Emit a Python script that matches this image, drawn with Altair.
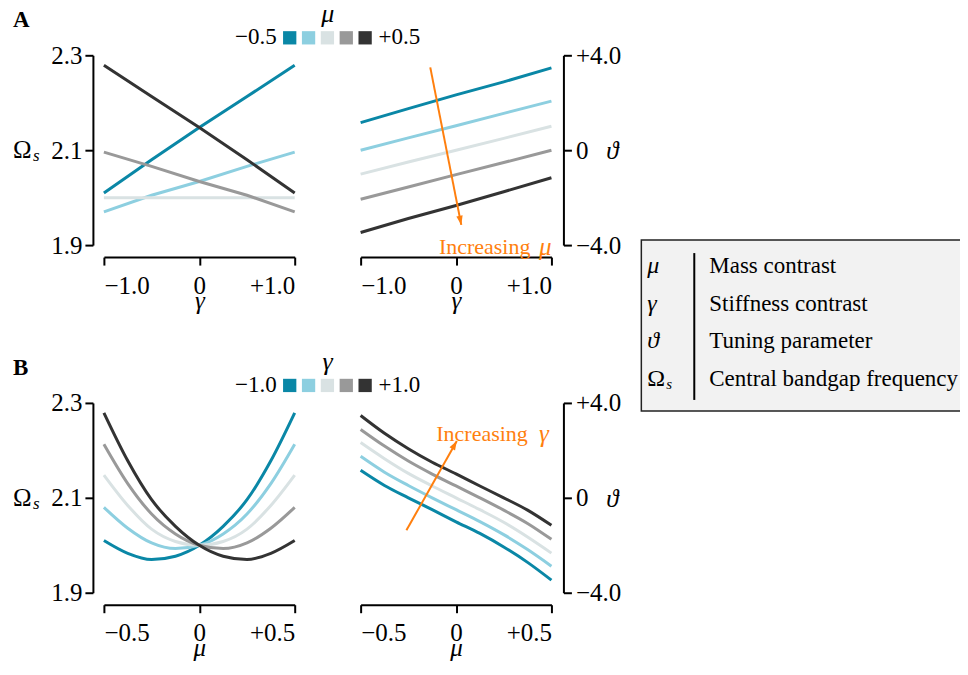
import math
import altair as alt
import pandas as pd

# ---------------- data ----------------
MU = [-0.5, -0.375, -0.25, -0.125, 0.0, 0.125, 0.25, 0.375, 0.5]
GAMMA = [-1.0, -0.5, 0.0, 0.5, 1.0]
MU_SHOWN = [-0.5, -0.25, 0.0, 0.25, 0.5]

# central bandgap frequency Omega_s, one list per gamma, along MU
OMEGA_GM10 = [2.010, 1.983, 1.970, 1.977, 2.000, 2.040, 2.096, 2.178, 2.279]
OMEGA_GM05 = [2.080, 2.036, 2.005, 1.993, 2.000, 2.024, 2.066, 2.130, 2.213]
OMEGA_G00 = [2.148, 2.084, 2.034, 2.008, 2.000, 2.008, 2.034, 2.084, 2.148]
OMEGA_GP05 = [2.213, 2.130, 2.066, 2.024, 2.000, 1.993, 2.005, 2.036, 2.080]
OMEGA_GP10 = [2.279, 2.178, 2.096, 2.040, 2.000, 1.977, 1.970, 1.983, 2.010]

# tuning parameter theta, one list per gamma, along MU
THETA_GM10 = [1.16, 0.52, 0.00, -0.50, -1.01, -1.50, -2.07, -2.72, -3.47]
THETA_GM05 = [1.75, 1.08, 0.52, 0.00, -0.50, -1.00, -1.55, -2.18, -2.88]
THETA_G00 = [2.33, 1.65, 1.03, 0.50, 0.00, -0.50, -1.03, -1.65, -2.33]
THETA_GP05 = [2.88, 2.18, 1.55, 1.00, 0.50, 0.00, -0.52, -1.08, -1.75]
THETA_GP10 = [3.47, 2.72, 2.07, 1.50, 1.01, 0.50, 0.00, -0.52, -1.16]

OMEGA = [OMEGA_GM10, OMEGA_GM05, OMEGA_G00, OMEGA_GP05, OMEGA_GP10]
THETA = [THETA_GM10, THETA_GM05, THETA_G00, THETA_GP05, THETA_GP10]

ARROW_A_GAMMA = [-0.27, 0.055]
ARROW_A_THETA = [3.49, -3.15]
ARROW_B_MU = [-0.26, 0.004]
ARROW_B_THETA = [-1.37, 2.40]

LEGEND_SYMBOLS = ["\u03bc", "\u03b3", "\u03d1"]
LEGEND_TEXT = ["Mass contrast", "Stiffness contrast", "Tuning parameter",
               "Central bandgap frequency"]

COLORS = ["#0a87a6", "#8dcfe0", "#d9e2e3", "#999999", "#333333"]
ORANGE = "#ff7f0e"
FONT = "Liberation Serif"
W, H = 191, 190

rows = []
for gi, g in enumerate(GAMMA):
    for mi, m in enumerate(MU):
        rows.append({"gamma": g, "mu": m, "omega": OMEGA[gi][mi],
                     "theta": THETA[gi][mi], "gk": gi,
                     "mk": MU_SHOWN.index(m) if m in MU_SHOWN else -1})
df = pd.DataFrame(rows)
dfA = df[df.mk >= 0].copy()
dfB = df.copy()

ONE = pd.DataFrame({"o": [0]})

SIGNED = ("datum.value == 0 ? '0' : (datum.value > 0 ? '+' : '\u2212') + "
          "format(abs(datum.value), '.1f')")


def s_gamma():
    return alt.Scale(domain=[-1, 1], nice=False, zero=False)


def s_mu():
    return alt.Scale(domain=[-0.5, 0.5], nice=False, zero=False)


def s_omega():
    return alt.Scale(domain=[1.9, 2.3], nice=False, zero=False)


def s_theta():
    return alt.Scale(domain=[-4, 4], nice=False, zero=False)


def x_axis(vals, title):
    return alt.Axis(values=vals, labelExpr=SIGNED, title=title, offset=12,
                    labelPadding=8, titleY=51, titleBaseline="alphabetic")


def color(field):
    return alt.Color(f"{field}:O", scale=alt.Scale(domain=[0, 1, 2, 3, 4], range=COLORS),
                     legend=None)


def txt(text, x, y, size=25, style="normal", weight="normal", align="left",
        baseline="alphabetic", col="black"):
    return alt.Chart(ONE).mark_text(
        text=text, font=FONT, fontSize=size, fontStyle=style, fontWeight=weight,
        align=align, baseline=baseline, color=col
    ).encode(x=alt.value(x), y=alt.value(y))


def head_angle(x0, x1, y0, y1, xspan, yspan):
    dx = (x1 - x0) / xspan * W
    dy = (y1 - y0) / yspan * H
    return math.degrees(math.atan2(dx, dy)) % 360


HEAD = "M0,0L0.8,2.3L-0.8,2.3Z"

Y_OMEGA = alt.Y("omega:Q", scale=s_omega(),
                axis=alt.Axis(values=[1.9, 2.1, 2.3], format=".1f", title=None,
                              offset=11, labelPadding=3, orient="left"))
Y_THETA_AXIS = alt.Axis(values=[-4, 0, 4], labelExpr=SIGNED, title=None, offset=12,
                        labelPadding=4, orient="right")


def omega_label():
    return [txt("\u03a9", -91, 103, size=25), txt("s", -71, 106, size=17, style="italic")]


def top_legend(field, other_field, dom, title, lo, hi):
    leg = pd.DataFrame({field: [0, 1, 2, 3, 4], other_field: dom})
    sq = alt.Chart(leg).mark_square(size=177, opacity=1).encode(
        x=alt.X(f"{other_field}:Q",
                scale=alt.Scale(domain=[dom[0], dom[-1]], range=[186, 261.5]), axis=None),
        y=alt.value(-17.5),
        color=color(field),
    )
    return [sq,
            txt(title, 224, -33, size=26, style="italic", align="center"),
            txt(lo, 173, -11, size=23, align="right"),
            txt(hi, 275, -11, size=23, align="left")]


# ---------------- panel A left ----------------
A_left = alt.layer(
    alt.Chart(dfA).mark_line(strokeWidth=3).encode(
        x=alt.X("gamma:Q", scale=s_gamma(), axis=x_axis([-1, 0, 1], "\u03b3")),
        y=Y_OMEGA, color=color("mk")),
    *top_legend("mk", "mu", MU_SHOWN, "\u03bc", "\u22120.5", "+0.5"),
    *omega_label(),
    txt("A", -91, -28, size=23, weight="bold"),
).resolve_scale(x="independent").properties(width=W, height=H)

# ---------------- panel A right ----------------
XA = alt.X("gamma:Q", scale=s_gamma(), axis=x_axis([-1, 0, 1], "\u03b3"))
arrA = pd.DataFrame({"gamma": ARROW_A_GAMMA, "theta": ARROW_A_THETA})
angA = head_angle(ARROW_A_GAMMA[0], ARROW_A_GAMMA[1], ARROW_A_THETA[0], ARROW_A_THETA[1], 2, 8)
txtA = pd.DataFrame({"gamma": [1.0], "theta": [-4.1]})
box_df = pd.DataFrame({"row": [0, 1, 2, 3], "desc": LEGEND_TEXT})
sym_df = pd.DataFrame({"row": [0, 1, 2], "sym": LEGEND_SYMBOLS})
om_df = pd.DataFrame({"row": [3], "sym": ["\u03a9"]})


def y_row():
    return alt.Y("row:Q", scale=alt.Scale(domain=[0, 3], range=[211, 324]), axis=None)


BOX_L = 281
A_right = alt.layer(
    alt.Chart(dfA).mark_line(strokeWidth=3).encode(
        x=XA, y=alt.Y("theta:Q", scale=s_theta(), axis=Y_THETA_AXIS), color=color("mk")),
    alt.Chart(arrA).mark_line(color=ORANGE, strokeWidth=2).encode(
        x=XA, y=alt.Y("theta:Q", scale=s_theta(), axis=None)),
    alt.Chart(arrA.iloc[[1]]).mark_point(
        shape=HEAD, size=64, filled=True, color=ORANGE, opacity=1, angle=angA, strokeWidth=0
    ).encode(x=XA, y=alt.Y("theta:Q", scale=s_theta(), axis=None)),
    alt.Chart(txtA).mark_text(text="\u03bc", font=FONT, fontSize=25, fontStyle="italic",
                              align="right", color=ORANGE).encode(
        x=XA, y=alt.Y("theta:Q", scale=s_theta(), axis=None)),
    alt.Chart(txtA).mark_text(text="Increasing", font=FONT, fontSize=22, align="right",
                              dx=-21, color=ORANGE).encode(
        x=XA, y=alt.Y("theta:Q", scale=s_theta(), axis=None)),
    txt("\u03d1", W + 55, H / 2 + 1, size=25, style="italic", baseline="middle"),
    # definitions box
    alt.Chart(ONE).mark_rect(fill="#f2f2f2", stroke="#222222", strokeWidth=1.5).encode(
        x=alt.value(BOX_L), x2=alt.value(BOX_L + 335), y=alt.value(185), y2=alt.value(356)),
    alt.Chart(ONE).mark_rule(strokeWidth=2, color="black").encode(
        x=alt.value(BOX_L + 53), y=alt.value(198), y2=alt.value(345)),
    alt.Chart(box_df).mark_text(font=FONT, fontSize=23, align="left", color="black").encode(
        x=alt.value(BOX_L + 68), y=y_row(), text="desc:N"),
    alt.Chart(sym_df).mark_text(font=FONT, fontSize=24, fontStyle="italic", align="left",
                                color="black").encode(
        x=alt.value(BOX_L + 6), y=y_row(), text="sym:N"),
    alt.Chart(om_df).mark_text(font=FONT, fontSize=24, align="left", color="black").encode(
        x=alt.value(BOX_L + 6), y=y_row(), text="sym:N"),
    alt.Chart(om_df).mark_text(text="s", font=FONT, fontSize=15, fontStyle="italic",
                               align="left", dy=5, color="black").encode(
        x=alt.value(BOX_L + 25), y=y_row()),
).resolve_scale(y="independent").properties(width=W, height=H)

# ---------------- panel B left ----------------
B_left = alt.layer(
    alt.Chart(dfB).mark_line(strokeWidth=3, interpolate="monotone").encode(
        x=alt.X("mu:Q", scale=s_mu(), axis=x_axis([-0.5, 0, 0.5], "\u03bc")),
        y=Y_OMEGA, color=color("gk")),
    *top_legend("gk", "gamma", GAMMA, "\u03b3", "\u22121.0", "+1.0"),
    *omega_label(),
    txt("B", -91, -28, size=23, weight="bold"),
).resolve_scale(x="independent").properties(width=W, height=H)

# ---------------- panel B right ----------------
XB = alt.X("mu:Q", scale=s_mu(), axis=x_axis([-0.5, 0, 0.5], "\u03bc"))
YB = alt.Y("theta:Q", scale=s_theta(), axis=Y_THETA_AXIS)
arrB = pd.DataFrame({"mu": ARROW_B_MU, "theta": ARROW_B_THETA})
angB = head_angle(ARROW_B_MU[0], ARROW_B_MU[1], ARROW_B_THETA[0], ARROW_B_THETA[1], 1, 8)
txtB = pd.DataFrame({"mu": [0.486], "theta": [2.70]})
B_right = alt.layer(
    alt.Chart(dfB).mark_line(strokeWidth=3, interpolate="monotone").encode(
        x=XB, y=YB, color=color("gk")),
    alt.Chart(arrB).mark_line(color=ORANGE, strokeWidth=2).encode(x=XB, y=YB),
    alt.Chart(arrB.iloc[[1]]).mark_point(
        shape=HEAD, size=64, filled=True, color=ORANGE, opacity=1, angle=angB, strokeWidth=0
    ).encode(x=XB, y=YB),
    alt.Chart(txtB).mark_text(text="\u03b3", font=FONT, fontSize=25, fontStyle="italic",
                              align="right", color=ORANGE).encode(x=XB, y=YB),
    alt.Chart(txtB).mark_text(text="Increasing", font=FONT, fontSize=22, align="right",
                              dx=-21, color=ORANGE).encode(x=XB, y=YB),
    txt("\u03d1", W + 55, H / 2 + 1, size=25, style="italic", baseline="middle"),
).properties(width=W, height=H)

chart = alt.concat(
    A_left, A_right, B_left, B_right,
    columns=2, spacing={"row": 158, "column": 66}, bounds="flush",
).configure_view(stroke=None).configure_axis(
    domainColor="black", domainWidth=2, tickColor="black", tickWidth=2, tickSize=8,
    labelFont=FONT, labelFontSize=25, labelColor="black",
    titleFont=FONT, titleFontSize=25, titleFontStyle="italic", titleFontWeight="normal",
    titleColor="black", grid=False,
).properties(background="white",
             padding={"top": -7, "left": 5, "right": -17, "bottom": 0})

chart.save("out.html", embed_options={"renderer": "svg", "actions": False})
